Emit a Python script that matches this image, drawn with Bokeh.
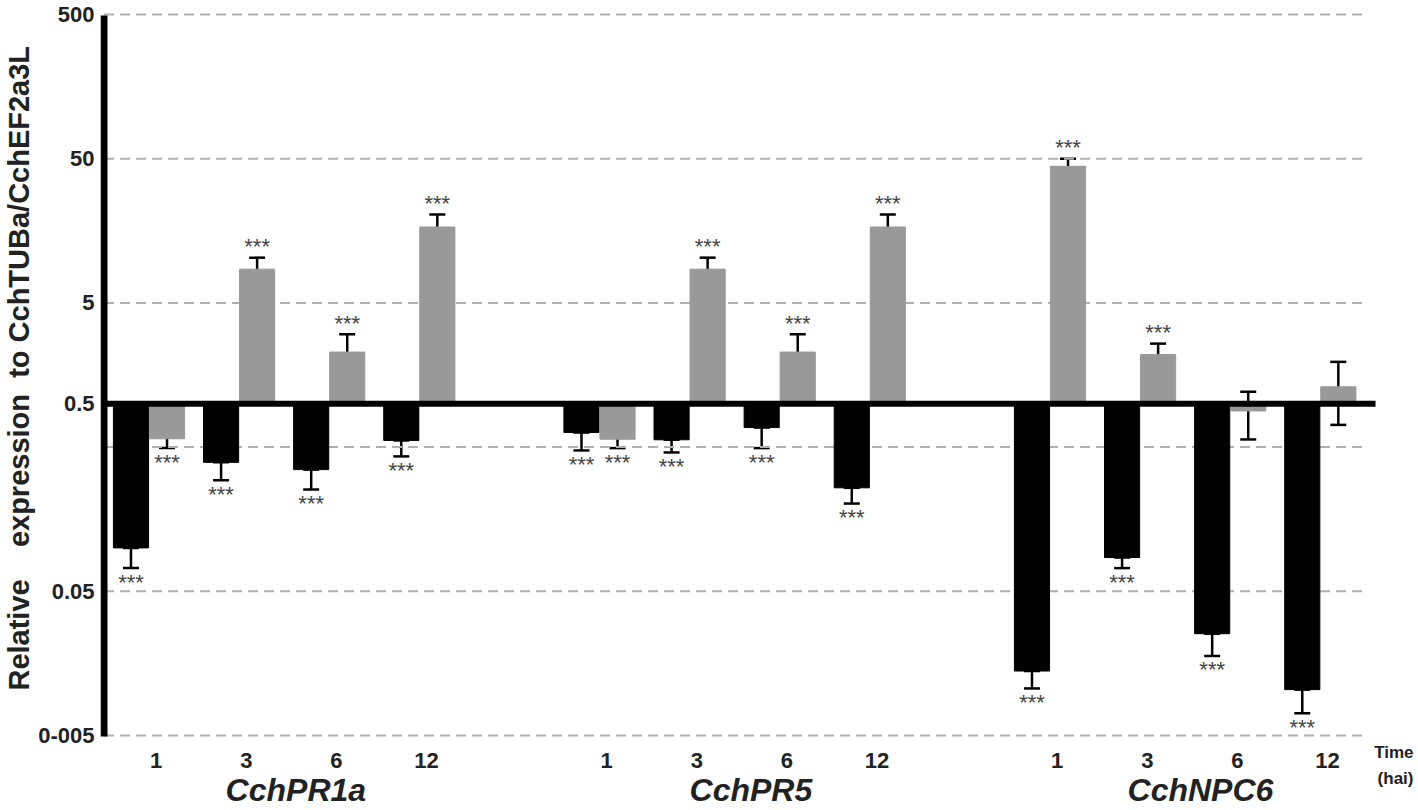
from bokeh.plotting import figure
from bokeh.models import ColumnDataSource, FixedTicker, Whisker, TeeHead, Range1d
from bokeh.core.properties import value
from bokeh.embed import file_html
from bokeh.resources import INLINE

# ---------------- data ----------------
genes = ["CchPR1a", "CchPR5", "CchNPC6"]
times = ["1", "3", "6", "12"]

# black series (bars hanging below the baseline of 1)
black_mean = [0.100, 0.392, 0.349, 0.556,
              0.631, 0.562, 0.683, 0.261,
              0.0140, 0.0857, 0.0254, 0.0104]
black_low = [0.0724, 0.294, 0.254, 0.431,
             0.474, 0.459, 0.492, 0.203,
             0.0106, 0.0724, 0.0178, 0.00713]
black_sig = ["***", "***", "***", "***",
             "***", "***", "***", "***",
             "***", "***", "***", "***"]

# grey series
grey_mean = [0.571, 8.57, 2.28, 16.8,
             0.567, 8.57, 2.28, 16.8,
             44.3, 2.19, 0.891, 1.31]
grey_low = [0.492, 7.05, 1.60, 12.8,
            0.492, 7.05, 1.60, 12.8,
            37.2, 1.80, 0.565, 0.713]
grey_high = [0.618, 10.3, 3.03, 20.5,
             0.624, 10.3, 3.03, 20.5,
             50.0, 2.61, 1.21, 1.95]
grey_sig = ["***", "***", "***", "***",
            "***", "***", "***", "***",
            "***", "***", "", ""]

y_ticks = [0.005, 0.05, 1, 5, 50, 500]
y_tick_labels = ["0-005", "0.05", "0.5", "5", "50", "500"]
grid_values = [0.005, 0.05, 0.5, 5, 50, 500]
baseline_value = 1
time_unit = ["Time", "(hai)"]

# ---------------- layout ----------------
slots = []
for g in range(len(genes)):
    for t in range(len(times)):
        slots.append(g * 5 + t)

FONT = "Liberation Sans"
BLACK = "#000000"
GREY = "#999999"
TXT = "#222222"

W, H = 1416, 808
LEFT = 100                # frame left (figure px)
PX_SLOT = 90.1            # px per slot
SLOT0 = 148.5             # figure px of first slot centre
x_start = -(SLOT0 - LEFT) / PX_SLOT
x_end = x_start + (W - LEFT) / PX_SLOT

TOP500 = 14               # figure px of the 500 line
BOT005 = 735              # figure px of the 0.005 line
PX_DEC = (BOT005 - TOP500) / 5.0
y_end = 500 * 10 ** (TOP500 / PX_DEC)
y_start = y_end / 10 ** (H / PX_DEC)

y_lo, y_hi = min(grid_values), max(grid_values)

p = figure(width=W, height=H, y_axis_type="log",
           x_range=Range1d(x_start, x_end), y_range=Range1d(y_start, y_end),
           output_backend="svg", toolbar_location=None,
           min_border_left=LEFT, min_border_right=0,
           min_border_top=0, min_border_bottom=0)
p.outline_line_color = None
p.xaxis.visible = False
p.xgrid.visible = False
p.ygrid.visible = False

# dashed horizontal grid lines (ending short of the right edge, as in the original)
axis_x = x_start + 3.5 / PX_SLOT
grid_right = x_start + (1367 - LEFT) / PX_SLOT
p.segment(x0=[axis_x] * len(grid_values), y0=grid_values,
          x1=[grid_right] * len(grid_values), y1=grid_values,
          line_color="#b0b0b0", line_width=2, line_dash="10 6")

# y axis (labels only; the thick axis line is drawn below)
yax = p.yaxis[0]
yax.ticker = FixedTicker(ticks=y_ticks)
yax.major_label_overrides = {v: s for v, s in zip(y_ticks, y_tick_labels)}
yax.axis_line_color = None
yax.major_tick_line_color = None
yax.minor_tick_line_color = None
yax.major_label_text_font = FONT
yax.major_label_text_font_size = "22px"
yax.major_label_text_font_style = "bold"
yax.major_label_text_color = TXT
yax.major_label_standoff = 0
NB = "\u00a0"
yax.axis_label = (NB * 9 + "Relative" + NB * 4 + "expression" + NB * 2
                  + "to CchTUBa/CchEF2a3L")
yax.axis_label_text_font = FONT
yax.axis_label_text_font_size = "29px"
yax.axis_label_text_font_style = "bold"
yax.axis_label_text_color = TXT
yax.axis_label_standoff = 0

# bars
bx = [s - 0.2 for s in slots]
gx = [s + 0.2 for s in slots]
black_src = ColumnDataSource(dict(x=bx, top=black_mean, low=black_low,
                                  sig=black_sig, ys=black_low,
                                  yoff=[14] * len(bx)))
star_y = [hi if m >= baseline_value else lo
          for m, lo, hi in zip(grey_mean, grey_low, grey_high)]
star_off = [-11 if m >= baseline_value else 14 for m in grey_mean]
grey_src = ColumnDataSource(dict(x=gx, top=grey_mean, low=grey_low,
                                 high=grey_high, sig=grey_sig,
                                 ys=star_y, yoff=star_off))

p.vbar(x="x", width=0.39, bottom=baseline_value, top="top", source=black_src,
       fill_color=BLACK, line_color=BLACK)
p.vbar(x="x", width=0.39, bottom=baseline_value, top="top", source=grey_src,
       fill_color=GREY, line_color=GREY)

# error bars
for src, up in ((black_src, "top"), (grey_src, "high")):
    p.add_layout(Whisker(source=src, base="x", lower="low", upper=up,
                         line_color=BLACK, line_width=2.5,
                         lower_head=TeeHead(size=16, line_width=2.5, line_color=BLACK),
                         upper_head=TeeHead(size=16, line_width=2.5, line_color=BLACK)))

# thick y axis line and baseline at 1
base_right = x_start + (1375 - LEFT) / PX_SLOT
p.segment(x0=[axis_x], y0=[y_lo * 0.985], x1=[axis_x], y1=[y_hi * 0.985],
          line_color=BLACK, line_width=7, line_cap="butt")
p.segment(x0=[axis_x], y0=[baseline_value], x1=[base_right], y1=[baseline_value],
          line_color=BLACK, line_width=6, line_cap="butt")

# significance stars
for src in (black_src, grey_src):
    p.text(x="x", y="ys", text="sig", source=src, y_offset="yoff",
           text_font=value(FONT), text_font_size="22px", text_color="#444444",
           text_align="center", text_baseline="alphabetic")

# time tick labels under the plot
tick_src = ColumnDataSource(dict(x=[s + 0.08 for s in slots],
                                 y=[y_lo] * len(slots),
                                 t=times * len(genes)))
p.text(x="x", y="y", text="t", source=tick_src, y_offset=25,
       text_font=value(FONT), text_font_size="22px", text_font_style="bold",
       text_color=TXT, text_align="center", text_baseline="middle")

# gene names
gene_x = [1.63, 6.68, 11.67]
gene_src = ColumnDataSource(dict(x=gene_x, y=[y_lo] * len(genes), t=genes))
p.text(x="x", y="y", text="t", source=gene_src, y_offset=54,
       text_font=value(FONT), text_font_size="32px", text_font_style="bold italic",
       text_color=TXT, text_align="center", text_baseline="middle")

# Time (hai)
unit_x = x_start + (1413 - LEFT) / PX_SLOT
unit_src = ColumnDataSource(dict(x=[unit_x, unit_x], y=[y_lo, y_lo],
                                 t=time_unit, off=[17, 43]))
p.text(x="x", y="y", text="t", source=unit_src, y_offset="off",
       text_font=value(FONT), text_font_size="17px", text_font_style="bold",
       text_color=TXT, text_align="right", text_baseline="middle")

open("out.html", "w").write(file_html(p, INLINE))
